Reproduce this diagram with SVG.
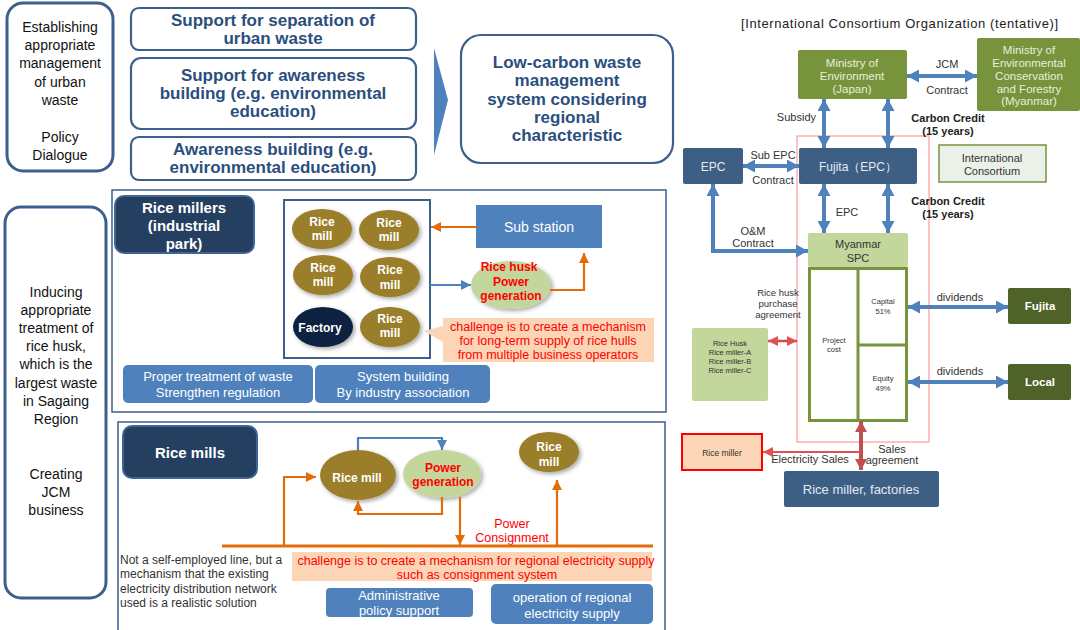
<svg xmlns="http://www.w3.org/2000/svg" width="1080" height="630" viewBox="0 0 1080 630">
<style>
text{font-family:"Liberation Sans",Arial,sans-serif}
.lbox{fill:#fff;stroke:#3D5F8C;stroke-width:3}
.sbox{fill:#fff;stroke:#3D5F8C;stroke-width:2.2}
.lt{font-size:14px;fill:#111;text-anchor:middle}
.bt{font-size:17px;font-weight:bold;fill:#2A4F7E;text-anchor:middle}
.sec{fill:#fff;stroke:#3D5F8C;stroke-width:1.5}
.navy{fill:#243F60;stroke:#3F6596;stroke-width:2}
.nt{font-size:15px;font-weight:bold;fill:#fff;text-anchor:middle}
.gold{fill:#9B7E2C}
.mt{font-size:12px;font-weight:bold;fill:#fff;text-anchor:middle}
.pg{fill:#C3D69B}
.rt{font-size:12px;font-weight:bold;fill:#FF0000;text-anchor:middle}
.btn{fill:#4F81BD}
.wt{font-size:13px;fill:#fff;text-anchor:middle}
.peach{fill:#FBD5B5}
.ct{font-size:12.5px;fill:#FF0000;text-anchor:middle}
.ol{fill:none;stroke:#E36C09;stroke-width:2.2}
.bl{fill:none;stroke:#4F81BD;stroke-width:2.2}
.grn{fill:#77933C}
.gt{font-size:11.5px;fill:#E8EEDC;text-anchor:middle}
.slate{fill:#3E5F84}
.st{font-size:12px;fill:#E4EAF2;text-anchor:middle}
.lab{font-size:11px;fill:#333;text-anchor:middle}
.labr{font-size:11px;fill:#333;text-anchor:end}
.cc{font-size:11px;font-weight:bold;fill:#222;text-anchor:middle}
.ba{fill:none;stroke:#4F81BD;stroke-width:4}
.dk{fill:#4F6228}
.dt{font-size:11.5px;font-weight:bold;fill:#fff;text-anchor:middle}
.tiny{font-size:7.5px;fill:#333;text-anchor:middle}
</style>
<defs>
<marker id="bA" markerUnits="userSpaceOnUse" markerWidth="13" markerHeight="13" refX="12" refY="6.5" orient="auto-start-reverse"><path d="M0,0 L12,6.5 L0,13 z" fill="#4F81BD"/></marker>
<marker id="bS" markerUnits="userSpaceOnUse" markerWidth="10" markerHeight="10" refX="10" refY="5" orient="auto-start-reverse"><path d="M0,0 L10,5 L0,10 z" fill="#4F81BD"/></marker>
<marker id="oA" markerUnits="userSpaceOnUse" markerWidth="10" markerHeight="10" refX="10" refY="5" orient="auto-start-reverse"><path d="M0,0 L10,5 L0,10 z" fill="#E36C09"/></marker>
<marker id="rA" markerUnits="userSpaceOnUse" markerWidth="12" markerHeight="12" refX="11" refY="6" orient="auto-start-reverse"><path d="M0,0 L11,6 L0,12 z" fill="#C0504D"/></marker>
<marker id="rS" markerUnits="userSpaceOnUse" markerWidth="10" markerHeight="10" refX="10" refY="5" orient="auto-start-reverse"><path d="M0,0 L10,5 L0,10 z" fill="#E05050"/></marker>
<filter id="sh" x="-20%" y="-20%" width="150%" height="150%"><feGaussianBlur in="SourceAlpha" stdDeviation="2"/><feOffset dx="2" dy="2"/><feComponentTransfer><feFuncA type="linear" slope="0.35"/></feComponentTransfer><feMerge><feMergeNode/><feMergeNode in="SourceGraphic"/></feMerge></filter>
</defs>

<!-- Top left -->
<g id="urban-goal">
<rect class="lbox" x="7" y="3" width="106" height="168" rx="16"/>
<text class="lt" x="60" y="32">Establishing</text>
<text class="lt" x="60" y="50">appropriate</text>
<text class="lt" x="60" y="68">management</text>
<text class="lt" x="60" y="87">of urban</text>
<text class="lt" x="60" y="105">waste</text>
<text class="lt" x="60" y="142">Policy</text>
<text class="lt" x="60" y="160">Dialogue</text>
</g>
<g id="sep-support">
<rect class="sbox" x="131" y="8" width="285" height="42" rx="8"/>
<text class="bt" x="273" y="26">Support for separation of</text>
<text class="bt" x="273" y="44">urban waste</text>
</g>
<g id="awareness-support">
<rect class="sbox" x="131" y="58" width="285" height="71" rx="10"/>
<text class="bt" x="273" y="81">Support for awareness</text>
<text class="bt" x="273" y="99">building (e.g. environmental</text>
<text class="bt" x="273" y="117">education)</text>
</g>
<g id="awareness">
<rect class="sbox" x="131" y="137" width="285" height="43" rx="8"/>
<text class="bt" x="273" y="155">Awareness building (e.g.</text>
<text class="bt" x="273" y="173">environmental education)</text>
</g>
<g id="chevron"><polygon points="434,48 448,100 434,155" fill="#4F81BD"/></g>
<g id="low-carbon">
<rect class="sbox" x="461" y="35" width="212" height="128" rx="20"/>
<text class="bt" x="567" y="68">Low-carbon waste</text>
<text class="bt" x="567" y="86">management</text>
<text class="bt" x="567" y="105">system considering</text>
<text class="bt" x="567" y="123">regional</text>
<text class="bt" x="567" y="141">characteristic</text>
</g>

<!-- Left lower -->
<g id="rice-husk-goal">
<rect class="lbox" x="5" y="207" width="101" height="391" rx="16"/>
<text class="lt" x="56" y="297">Inducing</text>
<text class="lt" x="56" y="315">appropriate</text>
<text class="lt" x="56" y="333">treatment of</text>
<text class="lt" x="56" y="351">rice husk,</text>
<text class="lt" x="56" y="369">which is the</text>
<text class="lt" x="56" y="388">largest waste</text>
<text class="lt" x="56" y="406">in Sagaing</text>
<text class="lt" x="56" y="424">Region</text>
<text class="lt" x="56" y="479">Creating</text>
<text class="lt" x="56" y="497">JCM</text>
<text class="lt" x="56" y="515">business</text>
</g>

<!-- Rice millers section -->
<g id="rice-millers-section">
<rect class="sec" x="112" y="190" width="554" height="222"/>
</g>
<g id="rice-millers-title">
<rect class="navy" x="115" y="196" width="139" height="57" rx="9"/>
<text class="nt" x="184" y="213">Rice millers</text>
<text class="nt" x="184" y="231">(industrial</text>
<text class="nt" x="184" y="249">park)</text>
</g>
<g id="mill-cluster">
<rect fill="#fff" stroke="#3D5F8C" stroke-width="2" x="284" y="200" width="146" height="158"/>
<g filter="url(#sh)">
<ellipse class="gold" cx="322" cy="229" rx="30" ry="20"/>
<ellipse class="gold" cx="389" cy="230" rx="30" ry="20"/>
<ellipse class="gold" cx="323" cy="275" rx="30" ry="20"/>
<ellipse class="gold" cx="390" cy="277" rx="30" ry="20"/>
<ellipse fill="#10243F" cx="323" cy="327" rx="30" ry="20"/>
<ellipse class="gold" cx="390" cy="327" rx="30" ry="20"/>
</g>
<text class="mt" x="322" y="226">Rice</text><text class="mt" x="322" y="240">mill</text>
<text class="mt" x="389" y="227">Rice</text><text class="mt" x="389" y="241">mill</text>
<text class="mt" x="323" y="272">Rice</text><text class="mt" x="323" y="286">mill</text>
<text class="mt" x="390" y="274">Rice</text><text class="mt" x="390" y="289">mill</text>
<text class="mt" x="320" y="332">Factory</text>
<text class="mt" x="390" y="323">Rice</text><text class="mt" x="390" y="337">mill</text>
</g>
<g id="sub-station">
<rect class="btn" x="476" y="205" width="126" height="43"/>
<text x="539" y="232" font-size="14" fill="#fff" text-anchor="middle">Sub station</text>
</g>
<g id="husk-power">
<ellipse class="pg" cx="511" cy="285" rx="40" ry="24" filter="url(#sh)"/>
<text class="rt" x="509" y="271">Rice husk</text>
<text class="rt" x="511" y="286">Power</text>
<text class="rt" x="511" y="300">generation</text>
</g>
<g id="challenge-1">
<path class="peach" d="M443,318 H654 V362 H443 V342 L424,331 L443,326 Z"/>
<text class="ct" x="548" y="331">challenge  is to create a mechanism</text>
<text class="ct" x="548" y="345">for long-term  supply of rice hulls</text>
<text class="ct" x="548" y="359">from multiple business operators</text>
</g>
<g id="proper-treatment">
<rect class="btn" x="123" y="365" width="190" height="38" rx="5"/>
<text class="wt" x="218" y="381">Proper treatment of waste</text>
<text class="wt" x="218" y="397">Strengthen regulation</text>
</g>
<g id="system-building">
<rect class="btn" x="315" y="365" width="175" height="38" rx="5"/>
<text class="wt" x="403" y="381">System building</text>
<text class="wt" x="403" y="397">By industry association</text>
</g>

<!-- Rice mills section -->
<g id="rice-mills-section">
<rect class="sec" x="118" y="422" width="547" height="212"/>
</g>
<g id="rice-mills-title">
<rect class="navy" x="123" y="426" width="134" height="52" rx="9"/>
<text class="nt" x="190" y="458">Rice mills</text>
</g>
<g id="rice-mill-b">
<ellipse class="gold" cx="358" cy="475" rx="38" ry="25" filter="url(#sh)"/>
<text class="mt" x="357" y="482">Rice mill</text>
</g>
<g id="power-gen-b">
<ellipse class="pg" cx="442" cy="474" rx="39" ry="24" filter="url(#sh)"/>
<text class="rt" x="443" y="472">Power</text>
<text class="rt" x="443" y="486">generation</text>
</g>
<g id="rice-mill-c">
<ellipse class="gold" cx="549" cy="452" rx="30" ry="20" filter="url(#sh)"/>
<text class="mt" x="549" y="451">Rice</text>
<text class="mt" x="549" y="466">mill</text>
</g>
<g id="consign-label">
<text x="512" y="528" font-size="12.5" fill="#FF0000" text-anchor="middle">Power</text>
<text x="512" y="542" font-size="12.5" fill="#FF0000" text-anchor="middle">Consignment</text>
</g>
<g id="note">
<text x="120" y="564" font-size="12" fill="#333">Not a self-employed  line, but a</text>
<text x="120" y="578" font-size="12" fill="#333">mechanism  that the existing</text>
<text x="120" y="593" font-size="12" fill="#333">electricity distribution network</text>
<text x="120" y="607" font-size="12" fill="#333">used  is a realistic solution</text>
</g>
<g id="challenge-2">
<rect class="peach" x="292" y="552" width="360" height="29"/>
<text class="ct" x="476" y="565">challenge  is to create a mechanism for regional electricity supply</text>
<text class="ct" x="477" y="579">such as consignment  system</text>
</g>
<g id="admin-support">
<rect class="btn" x="326" y="588" width="147" height="29" rx="4"/>
<text class="wt" x="399" y="600">Administrative</text>
<text class="wt" x="399" y="615">policy support</text>
</g>
<g id="regional-op">
<rect class="btn" x="491" y="584" width="162" height="40" rx="5"/>
<text class="wt" x="572" y="602">operation of regional</text>
<text class="wt" x="572" y="618">electricity supply</text>
</g>

<!-- Right side -->
<text x="741" y="28" font-size="13" fill="#222" textLength="317" lengthAdjust="spacing">[International Consortium Organization (tentative)]</text>
<g id="spc-boundary"><rect x="797" y="136" width="132" height="306" fill="none" stroke="#FF9999" stroke-width="1.2"/></g>
<g id="moe-japan">
<rect class="grn" x="798" y="50" width="109" height="49" rx="2"/>
<text class="gt" x="852" y="67">Ministry of</text>
<text class="gt" x="852" y="80">Environment</text>
<text class="gt" x="852" y="93">(Japan)</text>
</g>
<g id="moecf-myanmar">
<rect class="grn" x="977" y="38" width="103" height="73" rx="2"/>
<text class="gt" x="1029" y="54">Ministry of</text>
<text class="gt" x="1029" y="67">Environmental</text>
<text class="gt" x="1029" y="80">Conservation</text>
<text class="gt" x="1029" y="93">and Forestry</text>
<text class="gt" x="1029" y="105">(Myanmar)</text>
</g>
<g id="fujita-epc">
<rect class="slate" x="799" y="148" width="118" height="36" rx="2"/>
<text class="st" x="858" y="171">Fujita（EPC）</text>
</g>
<g id="epc">
<rect class="slate" x="683" y="148" width="60" height="36" rx="2"/>
<text class="st" x="713" y="171">EPC</text>
</g>
<g id="intl-consortium">
<rect x="939" y="145" width="107" height="37" fill="#EBF1E9" stroke="#77933C" stroke-width="1.5"/>
<text class="lab" x="992" y="162">International</text>
<text class="lab" x="992" y="175">Consortium</text>
</g>
<g id="myanmar-spc">
<rect class="pg" x="808" y="233" width="100" height="34" rx="2"/>
<text class="lab" x="858" y="248" font-size="11.5">Myanmar</text>
<text class="lab" x="858" y="262" font-size="11.5">SPC</text>
<rect x="809.5" y="268.5" width="97" height="152" fill="#fff" stroke="#77933C" stroke-width="3"/>
<line x1="858" y1="268" x2="858" y2="421" stroke="#77933C" stroke-width="3"/>
<line x1="858" y1="345" x2="907" y2="345" stroke="#77933C" stroke-width="3"/>
<text class="tiny" x="834" y="343">Project</text>
<text class="tiny" x="834" y="352">cost</text>
<text class="tiny" x="883" y="304">Capital</text>
<text class="tiny" x="883" y="314">51%</text>
<text class="tiny" x="883" y="381">Equity</text>
<text class="tiny" x="883" y="391">49%</text>
</g>
<g id="fujita">
<rect class="dk" x="1008" y="288" width="63" height="36" rx="2"/>
<text class="dt" x="1040" y="310">Fujita</text>
</g>
<g id="local">
<rect class="dk" x="1008" y="364" width="63" height="36" rx="2"/>
<text class="dt" x="1040" y="386">Local</text>
</g>
<g id="rice-husk-suppliers">
<rect class="pg" x="692" y="328" width="76" height="73" rx="2"/>
<text class="tiny" x="730" y="346">Rice Husk</text>
<text class="tiny" x="730" y="355">Rice miller-A</text>
<text class="tiny" x="730" y="364">Rice miller-B</text>
<text class="tiny" x="730" y="373">Rice miller-C</text>
</g>
<g id="rice-miller">
<rect x="682" y="434" width="80" height="36" fill="#FBD5B5" stroke="#FF0000" stroke-width="2"/>
<text x="722" y="456" font-size="8.5" fill="#333" text-anchor="middle">Rice miller</text>
</g>
<g id="rice-miller-factories">
<rect class="slate" x="784" y="471" width="155" height="36" rx="2"/>
<text x="861" y="494" font-size="13" fill="#E4EAF2" text-anchor="middle">Rice miller, factories</text>
</g>
<g id="right-labels">
<text class="lab" x="947" y="68">JCM</text>
<text class="lab" x="947" y="94">Contract</text>
<text class="labr" x="816" y="121">Subsidy</text>
<text class="cc" x="948" y="122">Carbon Credit</text>
<text class="cc" x="948" y="135">(15 years)</text>
<text class="lab" x="773" y="159">Sub EPC</text>
<text class="lab" x="773" y="184">Contract</text>
<text class="lab" x="847" y="216">EPC</text>
<text class="cc" x="948" y="205">Carbon Credit</text>
<text class="cc" x="948" y="218">(15 years)</text>
<text class="lab" x="753" y="235">O&amp;M</text>
<text class="lab" x="753" y="247">Contract</text>
<text x="778" y="296" font-size="9.5" fill="#333" text-anchor="middle">Rice husk</text>
<text x="778" y="307" font-size="9.5" fill="#333" text-anchor="middle">purchase</text>
<text x="778" y="318" font-size="9.5" fill="#333" text-anchor="middle">agreement</text>
<text class="lab" x="960" y="301">dividends</text>
<text class="lab" x="960" y="375">dividends</text>
<text class="lab" x="810" y="463">Electricity Sales</text>
<text class="lab" x="892" y="453">Sales</text>
<text class="lab" x="892" y="464">agreement</text>
</g>

<!-- Connectors -->
<g id="connectors">
<line class="ol" x1="476" y1="227" x2="431" y2="227" marker-end="url(#oA)"/>
<line class="bl" x1="430" y1="285" x2="471" y2="285" marker-end="url(#bS)"/>
<polyline class="ol" points="550,290 584,290 584,253" marker-end="url(#oA)"/>
<polyline class="bl" points="358,450 358,438 442,438 442,450" marker-end="url(#bS)"/>
<polyline class="ol" points="442,497 442,514 358,514 358,501" marker-end="url(#oA)"/>
<line class="ol" x1="460" y1="497" x2="460" y2="545" marker-end="url(#oA)"/>
<line x1="222" y1="546" x2="653" y2="546" stroke="#E36C09" stroke-width="3"/>
<polyline class="ol" points="284,546 284,477 316,477" marker-end="url(#oA)"/>
<line class="ol" x1="557" y1="546" x2="557" y2="480" marker-end="url(#oA)"/>

<line class="ba" x1="907" y1="76" x2="977" y2="76" marker-start="url(#bA)" marker-end="url(#bA)"/>
<line class="ba" x1="824" y1="99" x2="824" y2="148" marker-start="url(#bA)" marker-end="url(#bA)"/>
<line class="ba" x1="888" y1="99" x2="888" y2="148" marker-start="url(#bA)" marker-end="url(#bA)"/>
<line class="ba" x1="743" y1="166" x2="799" y2="166" marker-start="url(#bA)" marker-end="url(#bA)"/>
<line class="ba" x1="824" y1="184" x2="824" y2="233" marker-start="url(#bA)" marker-end="url(#bA)"/>
<line class="ba" x1="888" y1="184" x2="888" y2="233" marker-start="url(#bA)" marker-end="url(#bA)"/>
<polyline class="ba" points="713,184 713,251 808,251" marker-start="url(#bA)" marker-end="url(#bA)"/>
<line class="ba" x1="908" y1="307" x2="1008" y2="307" marker-start="url(#bA)" marker-end="url(#bA)"/>
<line class="ba" x1="908" y1="382" x2="1008" y2="382" marker-start="url(#bA)" marker-end="url(#bA)"/>
<line x1="768" y1="341" x2="797" y2="341" stroke="#C0504D" stroke-width="2.5" marker-start="url(#rS)" marker-end="url(#rS)"/>
<line x1="861" y1="421" x2="861" y2="470" stroke="#C0504D" stroke-width="4" marker-start="url(#rA)" marker-end="url(#rA)"/>
<line x1="861" y1="452" x2="763" y2="452" stroke="#E05050" stroke-width="1.8" marker-end="url(#rS)"/>
</g>
</svg>
